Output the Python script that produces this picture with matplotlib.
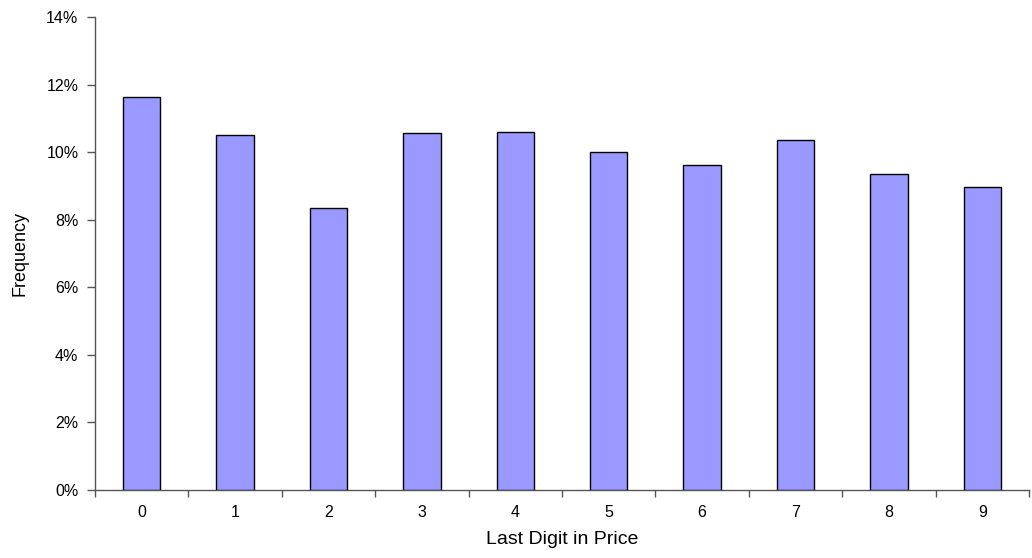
import numpy as np
import matplotlib.pyplot as plt
from matplotlib.ticker import FuncFormatter, FixedLocator

plt.rcParams['font.family'] = ['Liberation Sans', 'DejaVu Sans']

digits = ['0', '1', '2', '3', '4', '5', '6', '7', '8', '9']
freq = [11.64, 10.50, 8.34, 10.56, 10.60, 10.01, 9.62, 10.36, 9.35, 8.97]

fig = plt.figure(figsize=(10.32, 5.58), dpi=100)
ax = fig.add_axes([0.0921, 0.1219, 0.9049, 0.8476])

x = np.arange(len(digits))
ax.bar(x, freq, width=0.4, color='#9999ff', edgecolor='black', linewidth=1.0, zorder=3)

ax.set_xlim(-0.5, 9.5)
ax.set_ylim(0, 14)
ax.set_yticks(np.arange(0, 15, 2))
ax.yaxis.set_major_formatter(FuncFormatter(lambda v, p: f'{v:.0f}%'))
ax.set_xticks(x)
ax.set_xticklabels(digits)
ax.xaxis.set_minor_locator(FixedLocator(np.arange(-0.5, 10, 1)))

ax.tick_params(axis='x', which='major', length=0, pad=11, labelsize=11.5)
ax.tick_params(axis='x', which='minor', length=5, width=1, color='#555555')
ax.tick_params(axis='y', length=6, width=1, color='#555555', pad=6, labelsize=11.5)

for s in ['top', 'right']:
    ax.spines[s].set_visible(False)
for s in ['left', 'bottom']:
    ax.spines[s].set_color('#555555')
    ax.spines[s].set_linewidth(1.0)

ax.set_xlabel('Last Digit in Price', fontsize=14, labelpad=8)
ax.set_ylabel('Frequency', fontsize=13, labelpad=13)

fig.savefig('out.png', dpi=100)
